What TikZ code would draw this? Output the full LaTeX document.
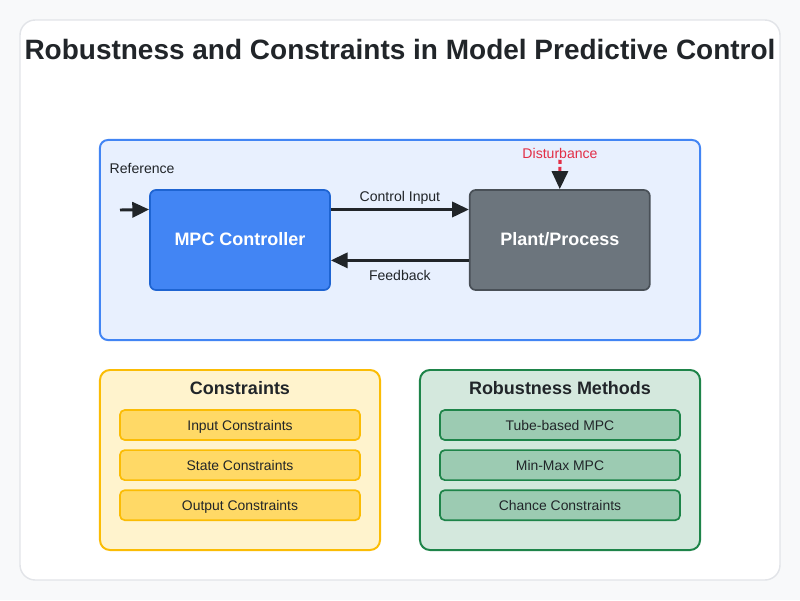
\documentclass[tikz,border=0pt]{standalone}
\usepackage{fontspec}
\setmainfont{Liberation Sans}
\setsansfont{Liberation Sans}
\usetikzlibrary{arrows.meta, positioning, calc}
\definecolor{pageBg}{RGB}{248, 249, 250}
\definecolor{cardBorder}{RGB}{226, 228, 232}
\definecolor{titleText}{RGB}{33, 37, 41}
\definecolor{loopFill}{RGB}{232, 240, 254}
\definecolor{loopBorder}{RGB}{66, 133, 244}
\definecolor{mpcFill}{RGB}{66, 133, 244}
\definecolor{mpcBorder}{RGB}{30, 100, 210}
\definecolor{plantFill}{RGB}{108, 117, 125}
\definecolor{plantBorder}{RGB}{73, 80, 87}
\definecolor{distRed}{RGB}{226, 46, 70}
\definecolor{consFill}{RGB}{255, 243, 205}
\definecolor{consBorder}{RGB}{251, 188, 4}
\definecolor{consItem}{RGB}{255, 217, 102}
\definecolor{robFill}{RGB}{212, 232, 221}
\definecolor{robBorder}{RGB}{30, 132, 73}
\definecolor{robItem}{RGB}{156, 203, 178}

\begin{document}
\begin{tikzpicture}[x=0.025cm, y=-0.025cm]

% Style definitions
\tikzset{
    panel/.style={
        rectangle, line width=1.4pt, rounded corners=0.25cm,
        minimum width=7cm, minimum height=4.5cm
    },
    block/.style={
        rectangle, line width=1.2pt, rounded corners=0.15cm,
        minimum width=4.5cm, minimum height=2.5cm, text height=0.72em, text depth=0pt,
        text=white, font=\fontsize{12.8}{15}\selectfont\bfseries
    },
    item/.style={
        rectangle, line width=1.2pt, rounded corners=0.12cm,
        minimum width=6cm, minimum height=0.75cm, text height=0.72em, text depth=0pt,
        text=titleText, font=\fontsize{9.9}{12}\selectfont
    },
    paneltitle/.style={font=\fontsize{12.8}{15}\selectfont\bfseries, text=titleText,
        text height=0.72em, text depth=0pt},
    sigtext/.style={font=\fontsize{10}{12}\selectfont, text=titleText, inner sep=1pt,
        text height=0.72em, text depth=0pt},
    wire/.style={
        draw=titleText, line width=2.1pt, -{Triangle[length=0.42cm, width=0.38cm]}
    }
}

% Page and card
\fill [pageBg] (0,0) rectangle (800,600);
\draw [fill=white, draw=cardBorder, line width=1pt, rounded corners=0.38cm] (20,20) rectangle (780,580);

% Title
\node (title) at (400,54) [font=\fontsize{19.9}{24}\selectfont\bfseries, text=titleText,
    text height=0.72em, text depth=0pt]
    {Robustness and Constraints in Model Predictive Control};

% Control loop
\node (loop_bg) at (400,240) [panel, fill=loopFill, draw=loopBorder, minimum width=15cm,
    minimum height=5cm, rounded corners=0.2cm] {};
\node (mpc) at (240,240) [block, fill=mpcFill, draw=mpcBorder] {MPC Controller};
\node (plant) [block, fill=plantFill, draw=plantBorder, right=3.45cm of mpc] {Plant/Process};

\node (ref_label) at (108,168) [sigtext, anchor=west] {Reference};
\coordinate (ref_in) at (120,210);
\node (dist_label) at (560,153) [sigtext, text=distRed] {Disturbance};

% Connections
\draw [wire] (ref_in) -- ($(mpc.north west)!0.2!(mpc.south west)$);
\draw [wire] ($(mpc.north east)!0.2!(mpc.south east)$) -- ($(plant.north west)!0.2!(plant.south west)$)
    node [midway, above=0.14cm, sigtext] {Control Input};
\draw [wire] ($(plant.north west)!0.7!(plant.south west)$) -- ($(mpc.north east)!0.7!(mpc.south east)$)
    node [midway, below=0.18cm, sigtext] {Feedback};
\draw [draw=distRed, line width=2.2pt, dash pattern=on 3pt off 2pt,
    -{Triangle[length=0.45cm, width=0.4cm, color=titleText]}] (dist_label.south) -- (plant.north);

% Constraints
\node (cons_bg) at (240,460) [panel, fill=consFill, draw=consBorder] {};
\node (cons_title) at (240,389) [paneltitle] {Constraints};
\node (cons_in) at (240,425) [item, fill=consItem, draw=consBorder] {Input Constraints};
\node (cons_state) [item, fill=consItem, draw=consBorder, below=0.21cm of cons_in] {State Constraints};
\node (cons_out) [item, fill=consItem, draw=consBorder, below=0.21cm of cons_state] {Output Constraints};

% Robustness methods
\node (rob_bg) at (560,460) [panel, fill=robFill, draw=robBorder] {};
\node (rob_title) at (560,389) [paneltitle] {Robustness Methods};
\node (rob_tube) at (560,425) [item, fill=robItem, draw=robBorder] {Tube-based MPC};
\node (rob_minmax) [item, fill=robItem, draw=robBorder, below=0.21cm of rob_tube] {Min-Max MPC};
\node (rob_chance) [item, fill=robItem, draw=robBorder, below=0.21cm of rob_minmax] {Chance Constraints};

\end{tikzpicture}
\end{document}
